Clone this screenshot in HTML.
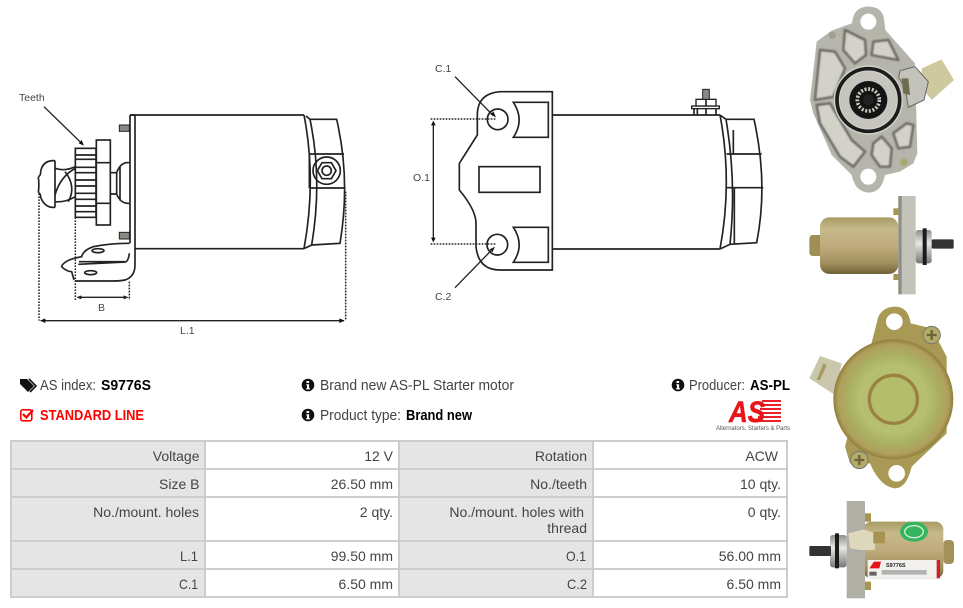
<!DOCTYPE html>
<html><head><meta charset="utf-8"><style>
html,body{margin:0;padding:0;background:#fff;width:963px;height:608px;overflow:hidden}
svg{display:block}
text{font-family:"Liberation Sans",sans-serif}
.t{font-size:14px;fill:#444;text-anchor:end}
.h{font-size:14.5px;fill:#444}
.b{font-size:14.5px;fill:#000;font-weight:bold}
.d{font-size:10.5px;fill:#444}
.ln{fill:none;stroke:#222;stroke-width:5}
.dot{fill:none;stroke:#222;stroke-width:4.5;stroke-dasharray:5 4}
</style></head><body>
<svg width="963" height="608" viewBox="0 0 963 608" xmlns="http://www.w3.org/2000/svg">
<defs>
<linearGradient id="gold" x1="0" y1="0" x2="0" y2="1"><stop offset="0" stop-color="#a79a62"/><stop offset=".2" stop-color="#c6b98a"/><stop offset=".5" stop-color="#c0ab7d"/><stop offset=".8" stop-color="#a39260"/><stop offset="1" stop-color="#6e6238"/></linearGradient>
<radialGradient id="gr" cx=".5" cy=".5" r=".5"><stop offset="0" stop-color="#b0bb68"/><stop offset=".55" stop-color="#b7bf72"/><stop offset=".75" stop-color="#a9b062"/><stop offset=".92" stop-color="#b09f5c"/><stop offset="1" stop-color="#8e7f3c"/></radialGradient>
<linearGradient id="sil" x1="0" y1="0" x2="0" y2="1"><stop offset="0" stop-color="#8f8f8a"/><stop offset=".4" stop-color="#e8e8e4"/><stop offset="1" stop-color="#777"/></linearGradient>
<filter id="bl" x="-5%" y="-5%" width="110%" height="110%"><feGaussianBlur stdDeviation="2"/></filter>
</defs>

<!-- LEFT DRAWING -->
<g transform="translate(0,80) scale(.33333)">
<path class="ln" d="M390 105H912M405 506H912M390 105V490M405 105V555Q405 590 375 600Q360 603 340 603H225"/>
<path class="ln" d="M390 105H405"/>
<path class="ln" d="M912 105Q950 300 912 506M918 108L930 118Q968 300 935 495L912 506M930 118H1010Q1052 300 1020 490L935 495"/>
<path class="ln" d="M928 222H1032M928 324H1036M928 222V324"/>
<circle class="ln" cx="980" cy="272" r="41"/>
<polygon class="ln" points="1008,272 994,296 966,296 952,272 966,248 994,248"/>
<circle class="ln" cx="980" cy="272" r="14"/>
<rect x="358" y="135" width="30" height="19" fill="#8a8a84" stroke="#222" stroke-width="3"/>
<rect x="358" y="457" width="30" height="20" fill="#8a8a84" stroke="#222" stroke-width="3"/>
<path class="ln" d="M165 265Q195 275 226 260M165 365Q195 368 226 350M165 345Q180 290 226 265M195 275Q230 320 205 365"/>
<rect class="ln" x="226" y="205" width="62" height="207" fill="#fff" style="fill:#fff"/>
<path class="ln" d="M226 225H288M226 238H288M226 262H288M226 278H288M226 300H288M226 318H288M226 340H288M226 358H288M226 378H288M226 395H288"/>
<rect class="ln" x="289" y="180" width="42" height="255" style="fill:#fff"/>
<path class="ln" d="M289 248H331M289 370H331"/>
<path class="ln" d="M331 278H350V342H331M350 278Q362 245 388 248M350 342Q362 372 388 370M360 258V362"/>
<path class="ln" d="M115 290Q122 288 122 275Q128 240 165 242M115 338Q122 340 122 352Q135 385 165 382M165 242V382M115 290Q118 315 115 338"/>
<path class="ln" d="M388 490Q330 490 280 500Q250 510 245 530Q190 540 185 560Q200 575 215 575L222 600"/>
<ellipse class="ln" cx="294" cy="512" rx="18" ry="6"/><ellipse class="ln" cx="272" cy="578" rx="18" ry="6"/>
<path class="ln" d="M235 553L375 546Q385 545 388 520M237 545H375"/>
<path class="dot" d="M117 340V722M1037 335V722M226 412V660M388 605V660"/>
<path d="M122 722H1032" stroke="#222" stroke-width="4"/><path d="M120 722l16-7v14zM1034 722l-16-7v14zM230 652l14-6v12zM385 652l-14-6v12z" fill="#111"/>
<path d="M232 652H382" stroke="#222" stroke-width="4"/>
<path d="M132 80L245 190" stroke="#222" stroke-width="4"/><path d="M252 197L236 190L245 180Z" fill="#111"/>
</g>
<text class="d" x="19" y="101">Teeth</text>
<text class="d" x="98" y="311">B</text>
<text class="d" x="180" y="334">L.1</text>

<!-- RIGHT DRAWING -->
<g transform="translate(400,50) scale(.33333)">
<path class="ln" d="M457 125H300Q235 130 232 190V255L178 340V420Q228 480 228 520V590Q235 660 300 660H457Z"/>
<circle class="ln" cx="293" cy="208" r="31"/><circle class="ln" cx="292" cy="584" r="31"/>
<path class="ln" d="M340 157H445V262H340Q375 210 340 157ZM340 532H445V637H340Q375 585 340 532Z"/>
<rect class="ln" x="237" y="350" width="183" height="77"/>
<path class="ln" d="M457 195H960M457 597H960M960 195Q998 395 960 597M960 195L978 208Q1010 395 990 583L960 597M978 208H1062Q1105 400 1070 578L990 583M980 312H1085M980 413H1090M1000 240V312M1003 413V580"/>
<rect x="875" y="168" width="83" height="8" fill="#fff" stroke="#222" stroke-width="4"/>
<rect x="888" y="148" width="60" height="20" fill="#fff" stroke="#222" stroke-width="4"/>
<path class="ln" d="M882 176V195M892 176V195M918 176V195M948 176V195M918 148V168"/>
<rect x="908" y="118" width="20" height="30" fill="#888" stroke="#222" stroke-width="3"/>
<path class="dot" d="M92 207H290M92 582H290"/>
<path d="M100 218V568" stroke="#222" stroke-width="4"/><path d="M100 212l-7 14h14zM100 577l-7-14h14zM288 202L272 194L280 184ZM285 590L269 598L277 607Z" fill="#111"/>
<path d="M165 80L280 197M165 713L280 595" stroke="#222" stroke-width="4" fill="none"/>
</g>
<text class="d" x="435" y="72">C.1</text>
<text class="d" x="413" y="181">O.1</text>
<text class="d" x="435" y="300">C.2</text>

<!-- PHOTO 1 -->
<g transform="translate(800,0) scale(.33333)">
<path d="M365 205L425 178L462 240L395 300L365 262Z" fill="#cfc99f"/>
<path d="M160 50Q170 20 205 20Q245 20 252 55L256 90L345 190L352 460L340 490L300 515L255 525Q245 578 205 578Q165 575 155 525L95 465L40 340L30 300L50 125L95 92L155 70Z" fill="#b6b5ab"/>
<g fill="#d3d2c9" stroke="#6f6f67" stroke-width="8" stroke-linejoin="round" filter="url(#bl)">
<path d="M135 90L195 120L198 165L165 190L130 150Z"/>
<path d="M220 125L265 120L295 180L215 165Z"/>
<path d="M60 150L105 155L135 205L100 290L45 300Z"/>
<path d="M50 315L90 310L155 420L195 455L160 500L120 470L60 370Z"/>
<path d="M220 430L245 410L275 445L270 500L240 500L215 465Z"/>
<path d="M280 400L320 370L340 375L330 440L295 445Z"/>
</g>
<circle cx="205" cy="65" r="24" fill="#fff"/><circle cx="205" cy="530" r="24" fill="#fff"/>
<circle cx="205" cy="300" r="104" fill="#d2d1c9"/>
<circle cx="205" cy="300" r="94" fill="none" stroke="#1d1d1d" stroke-width="11"/>
<circle cx="205" cy="300" r="85" fill="#c6c5bd"/>
<circle cx="205" cy="300" r="57" fill="#141414"/>
<circle cx="205" cy="300" r="33" fill="none" stroke="#c9c8c0" stroke-width="11" stroke-dasharray="6 5"/>
<circle cx="205" cy="300" r="16" fill="#222"/>
<path d="M300 212L345 200L385 245L372 300L325 322L315 262L296 232Z" fill="#c4c3bb" stroke="#666" stroke-width="3"/>
<path d="M305 235L325 235L330 285L310 280Z" fill="#6f6b4d"/>
<circle cx="97" cy="106" r="11" fill="#a29f90"/><circle cx="312" cy="487" r="11" fill="#a8a86e"/>
</g>

<!-- PHOTO 2 -->
<g transform="translate(800,0) scale(.33333)">
<rect x="28" y="705" width="50" height="63" rx="10" fill="#a08f55"/>
<rect x="60" y="652" width="235" height="170" rx="28" fill="url(#gold)"/>
<rect x="280" y="625" width="18" height="20" fill="#a6954f"/><rect x="280" y="822" width="18" height="18" fill="#a6954f"/>
<rect x="295" y="588" width="52" height="295" fill="#c4c3b9"/>
<rect x="295" y="588" width="10" height="295" fill="#8f8e84"/>
<rect x="347" y="690" width="48" height="100" rx="8" fill="url(#sil)"/>
<rect x="368" y="685" width="12" height="110" fill="#1b1b1b"/>
<rect x="395" y="718" width="66" height="28" rx="3" fill="#333"/>
</g>

<!-- PHOTO 3 -->
<g transform="translate(800,300) scale(.33333)">
<path d="M28 235L60 168L125 190L105 285Z" fill="#cbc7ac"/><path d="M50 240L70 190L80 195L60 240Z" fill="#a79a62"/>
<path d="M235 50Q250 20 285 20Q325 20 332 70L395 85L440 170L440 400L335 500Q320 565 285 565Q240 560 210 490L150 490L135 440Z" fill="#a89a55"/>
<circle cx="283" cy="65" r="25" fill="#fff"/><circle cx="290" cy="520" r="25" fill="#fff"/>
<circle cx="280" cy="298" r="180" fill="url(#gr)"/>
<circle cx="280" cy="298" r="72" fill="#b3bd6a" stroke="#9a8140" stroke-width="10"/>
<circle cx="395" cy="105" r="26" fill="#b3ab68" stroke="#777" stroke-width="3"/><path d="M380 105H410M395 90V120" stroke="#6c6336" stroke-width="7"/>
<circle cx="178" cy="480" r="26" fill="#b3ab68" stroke="#777" stroke-width="3"/><path d="M163 480H193M178 465V495" stroke="#6c6336" stroke-width="7"/>
</g>

<!-- PHOTO 4 -->
<g transform="translate(800,300) scale(.33333)">
<rect x="430" y="720" width="32" height="72" rx="12" fill="#a39258"/>
<rect x="190" y="665" width="240" height="170" rx="24" fill="url(#gold)"/>
<rect x="195" y="640" width="18" height="25" fill="#a6954f"/><rect x="195" y="845" width="18" height="25" fill="#a6954f"/>
<rect x="140" y="603" width="55" height="292" fill="#b0afa5"/>
<rect x="90" y="705" width="50" height="97" rx="8" fill="url(#sil)"/>
<rect x="105" y="700" width="12" height="105" fill="#1b1b1b"/>
<rect x="28" y="738" width="65" height="30" rx="3" fill="#333"/>
<path d="M145 700L190 688L225 700V750L180 750L150 745Z" fill="#ded9bd"/>
<path d="M220 695H255V730H220Z" fill="#a6934f"/>
<ellipse cx="342" cy="695" rx="42" ry="30" fill="#34b45e"/><ellipse cx="342" cy="695" rx="28" ry="18" fill="none" stroke="#d2efd8" stroke-width="4"/>
<rect x="203" y="780" width="217" height="55" fill="#f3f1ee"/>
<rect x="410" y="780" width="10" height="55" fill="#d21f26"/>
<path d="M208 805L222 785H243L238 805Z" fill="#e3151b"/>
<rect x="245" y="810" width="135" height="14" fill="#b3b3b3"/>
<rect x="208" y="815" width="22" height="12" fill="#666"/>
</g>
<text x="886" y="567" font-size="5.5" font-weight="bold" fill="#222">S9776S</text>

<!-- HEADER ROW -->
<path d="M20 379H27L34 386L28 392L20 384Z" fill="#111"/><path d="M29 379L36 386L30 392" fill="none" stroke="#111" stroke-width="1.6"/>
<text class="h" x="40" y="390" textLength="56" lengthAdjust="spacingAndGlyphs">AS index:</text>
<text class="b" x="101" y="390" textLength="50" lengthAdjust="spacingAndGlyphs">S9776S</text>
<rect x="20.800" y="409.800" width="11" height="11" rx="2" fill="none" stroke="#f00" stroke-width="1.600"/>
<path d="M23 414L26.300 417.500L33 410" fill="none" stroke="#f00" stroke-width="2.200"/>
<text x="40" y="420" font-size="14.500" font-weight="bold" fill="#f00" textLength="104" lengthAdjust="spacingAndGlyphs">STANDARD LINE</text>
<g fill="#111"><circle cx="308" cy="385" r="6.300"/><circle cx="308" cy="415" r="6.300"/><circle cx="678" cy="385" r="6.300"/></g>
<path d="M306.500 381h2.600v2h-2.600zM306.300 384.200h2.800v4h.9v1.200h-4v-1.200h1v-2.800h-.7zM306.500 411h2.600v2h-2.600zM306.300 414.200h2.800v4h.9v1.200h-4v-1.200h1v-2.800h-.7zM676.500 381h2.600v2h-2.600zM676.300 384.200h2.800v4h.9v1.200h-4v-1.200h1v-2.800h-.7z" fill="#fff"/>
<text class="h" x="320" y="390" textLength="194" lengthAdjust="spacingAndGlyphs">Brand new AS-PL Starter motor</text>
<text class="h" x="320" y="420" textLength="81" lengthAdjust="spacingAndGlyphs">Product type:</text>
<text class="b" x="406" y="420" textLength="66" lengthAdjust="spacingAndGlyphs">Brand new</text>
<text class="h" x="689" y="390" textLength="56" lengthAdjust="spacingAndGlyphs">Producer:</text>
<text class="b" x="750" y="390" textLength="40" lengthAdjust="spacingAndGlyphs">AS-PL</text>
<path d="M762 400H781V402H762ZM761 404H781V406H761ZM760 408H781V410H760ZM759 412H781V414H759ZM758 416H781V418H758ZM757 420H781V422H757Z" fill="#e8202a"/>
<text x="729" y="422" font-size="30" font-weight="bold" font-style="italic" fill="#e8151b" stroke="#e8151b" stroke-width=".6" textLength="36" lengthAdjust="spacingAndGlyphs">AS</text>
<text x="716" y="430" font-size="6.300" fill="#555" textLength="74" lengthAdjust="spacingAndGlyphs">Alternators, Starters &amp; Parts</text>

<!-- TABLE -->
<rect x="11" y="440" width="776" height="157" fill="#fff"/>
<rect x="11" y="440" width="194" height="157" fill="#e5e5e5"/>
<rect x="399" y="440" width="194" height="157" fill="#e5e5e5"/>
<g stroke="#cdcdcd" stroke-width="2" fill="none">
<rect x="11" y="441" width="776" height="156"/>
<path d="M205 441V597M399 441V597M593 441V597M11 469H787M11 497H787M11 541H787M11 569H787"/>
</g>
<text class="t" x="199.500" y="461">Voltage</text>
<text class="t" x="393" y="461">12 V</text>
<text class="t" x="587" y="461">Rotation</text>
<text class="t" x="778" y="461">ACW</text>
<text class="t" x="199.500" y="489">Size B</text>
<text class="t" x="393" y="489">26.50 mm</text>
<text class="t" x="587" y="489">No./teeth</text>
<text class="t" x="781" y="489">10 qty.</text>
<text class="t" x="199" y="517">No./mount. holes</text>
<text class="t" x="393" y="517">2 qty.</text>
<text class="t" x="584" y="517">No./mount. holes with</text>
<text class="t" x="587" y="533">thread</text>
<text class="t" x="781" y="517">0 qty.</text>
<text class="t" x="198" y="561" textLength="18" lengthAdjust="spacingAndGlyphs">L.1</text>
<text class="t" x="393" y="561">99.50 mm</text>
<text class="t" x="586" y="561" textLength="20" lengthAdjust="spacingAndGlyphs">O.1</text>
<text class="t" x="781" y="561">56.00 mm</text>
<text class="t" x="198" y="589" textLength="19" lengthAdjust="spacingAndGlyphs">C.1</text>
<text class="t" x="393" y="589">6.50 mm</text>
<text class="t" x="587" y="589" textLength="20" lengthAdjust="spacingAndGlyphs">C.2</text>
<text class="t" x="781" y="589">6.50 mm</text>
</svg>
</body></html>
